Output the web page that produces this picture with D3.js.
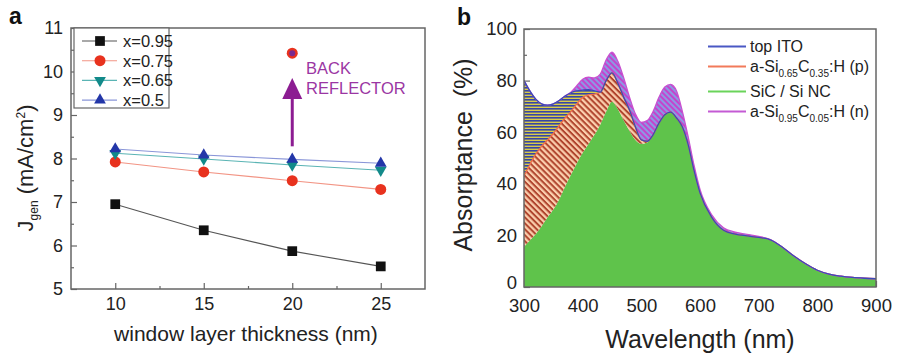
<!DOCTYPE html>
<html>
<head>
<meta charset="utf-8">
<script src="https://cdn.jsdelivr.net/npm/d3@7"></script>
<style>
  body { margin: 0; background: #fff; }
  svg { font-family: "Liberation Sans", Arial, sans-serif; }
</style>
</head>
<body>
<svg id="chart" width="898" height="356"></svg>
<script>
// ---------- Panel a: generated current vs window layer thickness ----------
const thickness = [10, 15, 20, 25];
const seriesLabels = ["x=0.95", "x=0.75", "x=0.65", "x=0.5"];
const jgen095 = [6.95, 6.35, 5.87, 5.52];
const jgen075 = [7.92, 7.69, 7.49, 7.29];
const jgen065 = [8.12, 7.99, 7.85, 7.73];
const jgen050 = [8.22, 8.08, 7.98, 7.89];
const reflectorThickness = 20;
const reflectorJgen = 10.42;
const arrowFrom = 8.28, arrowTo = 9.85;
const jTicks = [5, 6, 7, 8, 9, 10, 11];
const jMinor = [5.5, 6.5, 7.5, 8.5, 9.5, 10.5];
const tTicks = [10, 15, 20, 25];
const tMinor = [12.5, 17.5, 22.5];

// ---------- Panel b: absorptance per layer (stacked) ----------
const wavelength = [300,310,320,330,340,350,360,370,380,390,400,410,420,430,440,450,460,470,480,490,500,
                    510,520,530,540,550,560,570,580,590,600,620,640,660,680,700,720,740,760,780,800,820,840,860,880,900];
const absNC  = [15.6,18,20.5,23.5,27,30,34,39,43.5,48,52,55.5,59,63,68,71.8,69,64.5,60.5,57,55.5,
                56,59,63.5,66.8,67.8,65.5,62,55,45,36.5,27,22,20.5,19.8,19.2,18.3,15.5,12,9,6.5,5,4.2,3.7,3.4,3.2];
const absP   = [27.4,29.5,31,31,30,29.5,28.5,26.5,24.5,23,21.5,19,15.8,12.5,12,11.2,10,9,8,5,1.5,
                0.5,0,0,0,0,0,0,0,0,0,0,0,0,0,0,0,0,0,0,0,0,0,0,0,0];
const absITO = [37,28.5,21.3,16.5,13.5,11.5,9.8,8.5,7.3,5,2.8,2,1.2,0,0,0,0,0,0,0,0,
                0,0,0,0,0,0,0,0,0,0,0,0,0,0,0,0,0,0,0,0,0,0,0,0,0];
const absN   = [0,0,0,0,0,0,0,0,0.2,2,4.2,4.8,5,7,8,8,8.5,7.5,5,5,6.8,
                8,9,10,10.7,10.7,10.5,6,3,2,1.3,1,1,0.8,0.6,0.4,0.1,0,0,0,0,0,0,0,0,0];
const absTicks = [0, 20, 40, 60, 80, 100];
const absMinor = [10, 30, 50, 70, 90];
const wlTicks = [300, 400, 500, 600, 700, 800, 900];

const svg = d3.select("#chart");
const frameColor = "#666";

// ================= Panel a =================
const xA = d3.scaleLinear([7.5, 27.5], [71, 425]);
const yA = d3.scaleLinear([5, 11], [289, 28]);
const gA = svg.append("g");

function styleAxis(g, size) {
  g.select(".domain").remove();
  g.selectAll(".tick line").attr("stroke", frameColor).attr("stroke-width", 1.2);
  g.selectAll(".tick text").attr("fill", "#222").style("font-size", size + "px")
    .style("font-family", "'Liberation Sans', Arial, sans-serif");
}

gA.append("g").attr("transform", "translate(0,289)")
  .call(d3.axisBottom(xA).tickValues(tTicks).tickFormat(d3.format("d")).tickSizeInner(-6).tickSizeOuter(0).tickPadding(8))
  .call(g => styleAxis(g, 18));
gA.append("g").attr("transform", "translate(0,289)")
  .call(d3.axisBottom(xA).tickValues(tMinor).tickFormat("").tickSizeInner(-3).tickSizeOuter(0))
  .call(g => styleAxis(g, 18));
gA.append("g").attr("transform", "translate(71,0)")
  .call(d3.axisLeft(yA).tickValues(jTicks).tickFormat(d3.format("d")).tickSizeInner(-6).tickSizeOuter(0).tickPadding(8))
  .call(g => styleAxis(g, 18));
gA.append("g").attr("transform", "translate(71,0)")
  .call(d3.axisLeft(yA).tickValues(jMinor).tickFormat("").tickSizeInner(-3).tickSizeOuter(0))
  .call(g => styleAxis(g, 18));

gA.append("rect").attr("x", 71).attr("y", 28).attr("width", 425 - 71).attr("height", 289 - 28)
  .attr("fill", "none").attr("stroke", frameColor).attr("stroke-width", 1.5);

const seriesA = [
  { name: seriesLabels[0], values: jgen095, line: "#555", fill: "#111", sym: d3.symbolSquare, size: 95, rot: 0 },
  { name: seriesLabels[1], values: jgen075, line: "#f29484", fill: "#e8321e", sym: d3.symbolCircle, size: 95, rot: 0 },
  { name: seriesLabels[2], values: jgen065, line: "#5ab4b4", fill: "#128a8a", sym: d3.symbolTriangle, size: 60, rot: 180 },
  { name: seriesLabels[3], values: jgen050, line: "#8a96d8", fill: "#2336a8", sym: d3.symbolTriangle, size: 60, rot: 0 }
];

const lineA = d3.line().x(d => xA(d[0])).y(d => yA(d[1]));
seriesA.forEach(s => {
  const pts = thickness.map((t, i) => [t, s.values[i]]);
  gA.append("path").attr("d", lineA(pts)).attr("fill", "none").attr("stroke", s.line).attr("stroke-width", 1.1);
});
seriesA.forEach(s => {
  const pts = thickness.map((t, i) => [t, s.values[i]]);
  gA.selectAll(null).data(pts).enter().append("path")
    .attr("d", d3.symbol(s.sym, s.size))
    .attr("transform", d => `translate(${xA(d[0])},${yA(d[1])}) rotate(${s.rot})`)
    .attr("fill", s.fill);
});

// back reflector point and arrow
const purple = "#8c1d92";
gA.append("circle").attr("cx", xA(reflectorThickness)).attr("cy", yA(reflectorJgen)).attr("r", 5.5).attr("fill", "#e8321e");
gA.append("circle").attr("cx", xA(reflectorThickness)).attr("cy", yA(reflectorJgen)).attr("r", 3).attr("fill", "#7a2a90");
const ax = xA(reflectorThickness), ay0 = yA(arrowFrom), ayTip = yA(arrowTo);
gA.append("line").attr("x1", ax).attr("x2", ax).attr("y1", ay0).attr("y2", ayTip + 18)
  .attr("stroke", purple).attr("stroke-width", 3);
gA.append("path").attr("d", `M${ax},${ayTip} L${ax - 10},${ayTip + 21} L${ax + 10},${ayTip + 21} Z`).attr("fill", purple);
gA.append("text").attr("x", 306).attr("y", 74).text("BACK").attr("fill", "#9b36a3").style("font-size", "16.5px");
gA.append("text").attr("x", 306).attr("y", 94).text("REFLECTOR").attr("fill", "#9b36a3").style("font-size", "16.5px");

// legend a
gA.append("rect").attr("x", 74).attr("y", 28).attr("width", 95).attr("height", 80)
  .attr("fill", "#fff").attr("stroke", frameColor).attr("stroke-width", 1.2);
seriesA.forEach((s, i) => {
  const y = 41 + i * 19.7;
  gA.append("line").attr("x1", 82).attr("x2", 117).attr("y1", y).attr("y2", y).attr("stroke", s.line).attr("stroke-width", 1.1);
  gA.append("path").attr("d", d3.symbol(s.sym, s.size)).attr("transform", `translate(100,${y}) rotate(${s.rot})`).attr("fill", s.fill);
  gA.append("text").attr("x", 123).attr("y", y + 6).text(s.name).attr("fill", "#222").style("font-size", "16.5px");
});

// axis titles a
gA.append("text").attr("x", 246).attr("y", 341).attr("text-anchor", "middle").attr("fill", "#222")
  .style("font-size", "21px").text("window layer thickness (nm)");
const yt = gA.append("text").attr("transform", "translate(33,168) rotate(-90)").attr("text-anchor", "middle")
  .attr("fill", "#222").style("font-size", "22px");
yt.append("tspan").text("J");
yt.append("tspan").attr("dy", 5).style("font-size", "12px").text("gen");
yt.append("tspan").attr("dy", -5).text(" (mA/cm");
yt.append("tspan").attr("dy", -8).style("font-size", "12px").text("2");
yt.append("tspan").attr("dy", 8).text(")");

svg.append("text").attr("x", 9).attr("y", 24).text("a").style("font-weight", "bold").style("font-size", "23px").attr("fill", "#111");

// ================= Panel b =================
const xB = d3.scaleLinear([300, 900], [524, 876]);
const yB = d3.scaleLinear([0, 100], [287, 29]);
const gB = svg.append("g");

const defs = svg.append("defs");
function stripes(id, w, colors, widths, angle) {
  const p = defs.append("pattern").attr("id", id).attr("patternUnits", "userSpaceOnUse")
    .attr("width", w).attr("height", w).attr("patternTransform", `rotate(${angle})`);
  p.append("rect").attr("width", w).attr("height", w).attr("fill", colors[0]);
  p.append("rect").attr("width", w).attr("height", widths).attr("fill", colors[1]);
}
stripes("hatchP", 4.2, ["#fbcfae", "#b0452e"], 2, 45);
stripes("hatchITO", 3, ["#d9cc4a", "#3646a6"], 1.6, 0);
stripes("hatchN", 4, ["#8c98e4", "#c444cc"], 2, 45);
defs.append("clipPath").attr("id", "clipB").append("rect").attr("x", 524).attr("y", 29).attr("width", 352).attr("height", 258);

gB.append("g").attr("transform", "translate(0,287)")
  .call(d3.axisBottom(xB).tickValues(wlTicks).tickFormat(d3.format("d")).tickSizeInner(-6).tickSizeOuter(0).tickPadding(12))
  .call(g => styleAxis(g, 18.5));
gB.append("g").attr("transform", "translate(524,0)")
  .call(d3.axisLeft(yB).tickValues(absTicks).tickFormat(d3.format("d")).tickSizeInner(-6).tickSizeOuter(0).tickPadding(7))
  .call(g => styleAxis(g, 18.5))
  .call(g => g.selectAll(".tick text").attr("dy", d => d === 0 ? "0.1em" : "0.32em"));
gB.append("g").attr("transform", "translate(524,0)")
  .call(d3.axisLeft(yB).tickValues(absMinor).tickFormat("").tickSizeInner(-3).tickSizeOuter(0))
  .call(g => styleAxis(g, 18.5));

const rows = wavelength.map((w, i) => ({ w, nc: absNC[i], p: absP[i], ito: absITO[i], n: absN[i] }));
const layers = d3.stack().keys(["nc", "p", "ito", "n"])(rows);
const fills = { nc: "#5fc34b", p: "url(#hatchP)", ito: "url(#hatchITO)", n: "url(#hatchN)" };
const edges = { nc: "#5fc34b", p: "#f26a48", ito: "#3a4cb8", n: "#c850d0" };
const area = d3.area().x(d => xB(d.data.w)).y0(d => yB(d[0])).y1(d => yB(d[1])).curve(d3.curveMonotoneX);
const edge = d3.line().x(d => xB(d.data.w)).y(d => yB(d[1])).curve(d3.curveMonotoneX);

const plotB = gB.append("g").attr("clip-path", "url(#clipB)");
layers.forEach(L => plotB.append("path").attr("d", area(L)).attr("fill", fills[L.key]));
// outline order: p edge, n edge, then ITO edge on top
["p", "n", "ito"].forEach(k => {
  const L = layers.find(l => l.key === k);
  plotB.append("path").attr("d", edge(L)).attr("fill", "none").attr("stroke", edges[k]).attr("stroke-width", 1.3);
});

gB.append("rect").attr("x", 524).attr("y", 29).attr("width", 352).attr("height", 258)
  .attr("fill", "none").attr("stroke", frameColor).attr("stroke-width", 1.5);

// legend b
const legB = [
  { key: "ito", y: 46.5, parts: [["top ITO", 0]] },
  { key: "p", y: 66.5, parts: [["a-Si", 0], ["0.65", 1], ["C", 0], ["0.35", 1], [":H (p)", 0]] },
  { key: "nc", y: 91.5, parts: [["SiC / Si NC", 0]] },
  { key: "n", y: 111.5, parts: [["a-Si", 0], ["0.95", 1], ["C", 0], ["0.05", 1], [":H (n)", 0]] }
];
const legColor = { ito: "#4a58c4", p: "#f27a5a", nc: "#6ad45a", n: "#c45ad4" };
legB.forEach(e => {
  gB.append("line").attr("x1", 708).attr("x2", 746).attr("y1", e.y).attr("y2", e.y).attr("stroke", legColor[e.key]).attr("stroke-width", 2);
  const t = gB.append("text").attr("x", 750).attr("y", e.y + 5.5).attr("fill", "#222").style("font-size", "16px");
  let sub = 0;
  e.parts.forEach(([s, isSub]) => {
    const dy = isSub && !sub ? 5 : (!isSub && sub ? -5 : 0);
    t.append("tspan").attr("dy", dy).style("font-size", isSub ? "10px" : "16px").text(s);
    sub = isSub;
  });
});

// axis titles b
gB.append("text").attr("x", 700).attr("y", 348).attr("text-anchor", "middle").attr("fill", "#222")
  .style("font-size", "25px").text("Wavelength (nm)");
gB.append("text").attr("transform", "translate(472,155) rotate(-90)").attr("text-anchor", "middle")
  .attr("fill", "#222").style("font-size", "25px").style("white-space", "pre").text("Absorptance  (%)");

svg.append("text").attr("x", 457).attr("y", 25).text("b").style("font-weight", "bold").style("font-size", "23px").attr("fill", "#111");
</script>
</body>
</html>
